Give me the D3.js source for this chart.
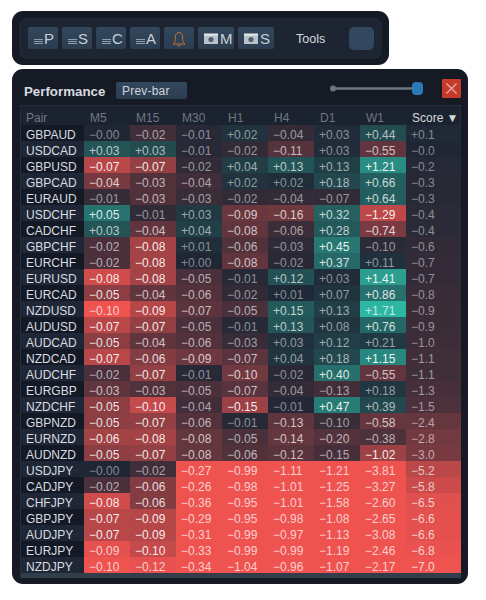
<!DOCTYPE html>
<html>
<head>
<meta charset="utf-8">
<script src="https://cdn.jsdelivr.net/npm/d3@7"></script>
<style>
  html, body { margin: 0; padding: 0; background: #fff; }
  svg { display: block; }
  text { font-family: "Liberation Sans", Arial, sans-serif; }
</style>
</head>
<body>
<svg id="chart" width="486" height="600"></svg>
<script>
var pairs = ['GBPAUD','USDCAD','GBPUSD','GBPCAD','EURAUD','USDCHF','CADCHF','GBPCHF','EURCHF','EURUSD','EURCAD','NZDUSD','AUDUSD','AUDCAD','NZDCAD','AUDCHF','EURGBP','NZDCHF','GBPNZD','EURNZD','AUDNZD','USDJPY','CADJPY','CHFJPY','GBPJPY','AUDJPY','EURJPY','NZDJPY'];
var columns = ['M5','M15','M30','H1','H4','D1','W1'];

var m5 = [-0.00,+0.03,-0.07,-0.04,-0.01,+0.05,+0.03,-0.02,-0.02,-0.08,-0.05,-0.10,-0.07,-0.05,-0.07,-0.02,-0.03,-0.05,-0.05,-0.06,-0.05,-0.00,-0.02,-0.08,-0.07,-0.07,-0.09,-0.10];
var m15 = [-0.02,+0.03,-0.07,-0.03,-0.03,-0.01,-0.04,-0.08,-0.08,-0.08,-0.04,-0.09,-0.07,-0.04,-0.06,-0.07,-0.03,-0.10,-0.07,-0.08,-0.07,-0.02,-0.06,-0.06,-0.09,-0.09,-0.10,-0.12];
var m30 = [-0.01,-0.01,-0.02,-0.04,-0.03,+0.03,+0.04,+0.01,+0.00,-0.05,-0.06,-0.07,-0.05,-0.06,-0.09,-0.01,-0.05,-0.04,-0.06,-0.08,-0.08,-0.27,-0.26,-0.36,-0.29,-0.31,-0.33,-0.34];
var h1 = [+0.02,-0.02,+0.04,+0.02,-0.02,-0.09,-0.08,-0.06,-0.08,-0.01,-0.02,-0.05,-0.01,-0.03,-0.07,-0.10,-0.07,-0.15,-0.01,-0.05,-0.06,-0.99,-0.98,-0.95,-0.95,-0.99,-0.99,-1.04];
var h4 = [-0.04,-0.11,+0.13,+0.02,-0.04,-0.16,-0.06,-0.03,-0.02,+0.12,+0.01,+0.15,+0.13,+0.03,+0.04,-0.02,-0.04,-0.01,-0.13,-0.14,-0.12,-1.11,-1.01,-1.01,-0.98,-0.97,-0.99,-0.96];
var d1 = [+0.03,+0.03,+0.13,+0.18,-0.07,+0.32,+0.28,+0.45,+0.37,+0.03,+0.07,+0.13,+0.08,+0.12,+0.18,+0.40,-0.13,+0.47,-0.10,-0.20,-0.15,-1.21,-1.25,-1.58,-1.08,-1.13,-1.19,-1.07];
var w1 = [+0.44,-0.55,+1.21,+0.66,+0.64,-1.29,-0.74,-0.10,+0.11,+1.41,+0.86,+1.71,+0.76,+0.21,+1.15,-0.55,+0.18,+0.39,-0.58,-0.38,-1.02,-3.81,-3.27,-2.60,-2.65,-3.08,-2.46,-2.17];
var score = [+0.1,-0.0,-0.2,-0.3,-0.3,-0.4,-0.4,-0.6,-0.7,-0.7,-0.8,-0.9,-0.9,-1.0,-1.1,-1.1,-1.3,-1.5,-2.4,-2.8,-3.0,-5.2,-5.8,-6.5,-6.6,-6.6,-6.8,-7.0];
var series = [m5, m15, m30, h1, h4, d1, w1];

// value at which each column reaches full colour
var fullAt = [0.095, 0.125, 0.24, 0.25, 0.42, 0.8, 1.7];

var svg = d3.select('#chart');

var rowY = d3.scaleBand().domain(pairs).range([125, 573]);
var colX = d3.scaleBand().domain(columns).range([84, 406]);
var fmt2 = d3.format('+.2f'), fmt1 = d3.format('+.1f');

function strength(column) {
  return d3.scaleLinear().domain([-fullAt[column], 0, fullAt[column]]).range([-1, 0, 1]).clamp(true);
}
var scoreStrength = d3.scaleLinear().domain([0, 7]).range([0, 1]).clamp(true);

var heat = d3.scaleLinear().domain([-1, 0, 1]).range(['#ef5350', '#1f2735', '#2db7a3']);

function textFill(s) {
  var a = Math.abs(s);
  return a > 0.9 ? 'rgba(255,255,255,0.72)' : 'rgba(255,255,255,' + Math.min(0.92, 0.45 + 0.8 * a) + ')';
}

function panel(x, y, w, h, r, fill) {
  return svg.append('rect').attr('x', x).attr('y', y).attr('width', w).attr('height', h).attr('rx', r).attr('fill', fill);
}

// toolbar
panel(12, 11, 377, 54, 11, '#151a24');
panel(20, 19, 361, 39, 6, '#1d2533').attr('stroke', '#242d3c');

var defs = svg.append('defs');
var grad = defs.append('linearGradient').attr('id', 'btn').attr('x1', 0).attr('x2', 0).attr('y1', 0).attr('y2', 1);
grad.append('stop').attr('offset', 0).attr('stop-color', '#33485d');
grad.append('stop').attr('offset', 1).attr('stop-color', '#2a3c50');

var buttons = [
  {x: 28, w: 30, icon: 'menu', label: 'P'},
  {x: 62, w: 30, icon: 'menu', label: 'S'},
  {x: 96, w: 30, icon: 'menu', label: 'C'},
  {x: 130, w: 30, icon: 'menu', label: 'A'},
  {x: 164, w: 30, icon: 'bell', label: ''},
  {x: 198, w: 36, icon: 'cam', label: 'M'},
  {x: 238, w: 36, icon: 'cam', label: 'S'}
];

buttons.forEach(function(b) {
  var g = svg.append('g').attr('transform', 'translate(' + b.x + ',27)');
  g.append('rect').attr('width', b.w).attr('height', 22).attr('rx', 2).attr('fill', 'url(#btn)');
  if (b.icon == 'menu') {
    [12.5, 14.5, 16.5].forEach(function(y) {
      g.append('line').attr('x1', 6).attr('x2', 15).attr('y1', y).attr('y2', y).attr('stroke', '#aeb6bf').attr('stroke-width', 0.8);
    });
    g.append('text').attr('x', 16).attr('y', 16.5).attr('font-size', 15).attr('fill', '#c9cfd5').text(b.label);
  }
  if (b.icon == 'bell') {
    g.append('path')
      .attr('d', 'M9 17 C12 15 11 12 11.5 9 C12 6.5 13.5 5.5 15 5.5 C16.5 5.5 18 6.5 18.5 9 C19 12 18 15 21 17 Z M13.5 18 C14 19.5 16 19.5 16.5 18')
      .attr('fill', 'none').attr('stroke', '#c5763a').attr('stroke-width', 1);
  }
  if (b.icon == 'cam') {
    g.append('rect').attr('x', 6).attr('y', 8).attr('width', 14).attr('height', 9).attr('fill', '#b9c2ca');
    g.append('rect').attr('x', 6).attr('y', 6.5).attr('width', 14).attr('height', 2).attr('fill', '#e6eaee');
    g.append('circle').attr('cx', 13).attr('cy', 12.5).attr('r', 2.6).attr('fill', '#55606a');
    g.append('text').attr('x', 22).attr('y', 16.5).attr('font-size', 15).attr('fill', '#c9cfd5').text(b.label);
  }
});

svg.append('text').attr('x', 296).attr('y', 43).attr('font-size', 12.5).attr('fill', '#d3d8dd').text('Tools');
panel(349, 27, 25, 23, 5, '#33475e');

// main panel
panel(12, 69, 456, 515, 11, '#151a24');
svg.append('text').attr('x', 24).attr('y', 96).attr('font-size', 13.3).attr('font-weight', 'bold').attr('fill', '#d8dce0').text('Performance');
panel(116, 82, 71, 17, 2, 'url(#btn)');
svg.append('text').attr('x', 122).attr('y', 95).attr('font-size', 12).attr('letter-spacing', 0.2).attr('fill', '#cfd5da').text('Prev-bar');

svg.append('line').attr('x1', 333).attr('x2', 417).attr('y1', 88.5).attr('y2', 88.5).attr('stroke', '#6c7680').attr('stroke-width', 2.5);
svg.append('circle').attr('cx', 333).attr('cy', 88.5).attr('r', 3).attr('fill', '#6c7680');
panel(412, 82, 11, 13, 4, '#2a7ab5');

panel(442, 79, 19, 19, 1, '#c63a2e');
svg.append('path').attr('d', 'M446.5 83.5 L456.5 93.5 M456.5 83.5 L446.5 93.5').attr('stroke', '#e9b4ac').attr('stroke-width', 1.1);

// table frame
svg.append('rect').attr('x', 20.5).attr('y', 105.5).attr('width', 440).attr('height', 472).attr('fill', '#1c2330').attr('stroke', '#262f3d');
svg.append('rect').attr('x', 21).attr('y', 573).attr('width', 440).attr('height', 5).attr('fill', '#313d4b');

// header
svg.append('g').selectAll('text').data(['Pair'].concat(columns)).enter().append('text')
  .attr('x', function(d) { return d == 'Pair' ? 26 : colX(d) + 6; })
  .attr('y', 122)
  .attr('font-size', 12)
  .attr('fill', '#6f7783')
  .text(function(d) { return d; });
svg.append('text').attr('x', 412).attr('y', 122).attr('font-size', 12).attr('fill', '#d5d9de').text('Score');
svg.append('text').attr('x', 446.5).attr('y', 122).attr('font-size', 12).attr('font-family', 'DejaVu Sans').attr('fill', '#d5d9de').text('▼');

// pair column
var rows = svg.append('g').selectAll('g').data(pairs).enter().append('g');
rows.append('rect')
  .attr('x', 21).attr('y', function(d) { return rowY(d); })
  .attr('width', 63).attr('height', rowY.bandwidth())
  .attr('fill', function(d, i) { return i % 2 ? '#1f2736' : '#141a25'; });
rows.append('text')
  .attr('x', 26).attr('y', function(d) { return rowY(d) + 13.5; })
  .attr('font-size', 12).attr('fill', '#d8dce1')
  .text(function(d) { return d; });

// value cells
columns.forEach(function(name, c) {
  var s = strength(c);
  var g = svg.append('g').selectAll('g').data(series[c]).enter().append('g');
  g.append('rect')
    .attr('x', colX(name)).attr('y', function(d, i) { return rowY(pairs[i]); })
    .attr('width', colX.bandwidth()).attr('height', rowY.bandwidth())
    .attr('fill', function(d) { return heat(s(d)); });
  g.append('text')
    .attr('x', colX(name) + 5).attr('y', function(d, i) { return rowY(pairs[i]) + 13.5; })
    .attr('font-size', 12)
    .attr('fill', function(d) { return textFill(s(d)); })
    .text(function(d) { return fmt2(d); });
});

// score column
var sc = svg.append('g').selectAll('g').data(score).enter().append('g');
sc.append('rect')
  .attr('x', 406).attr('y', function(d, i) { return rowY(pairs[i]); })
  .attr('width', 55).attr('height', rowY.bandwidth())
  .attr('fill', function(d) { return heat(d < 0 ? -scoreStrength(-d) : scoreStrength(d)); });
sc.append('text')
  .attr('x', 411).attr('y', function(d, i) { return rowY(pairs[i]) + 13.5; })
  .attr('font-size', 12)
  .attr('fill', function(d) { return 'rgba(255,255,255,' + (0.45 + 0.3 * scoreStrength(Math.abs(d))) + ')'; })
  .text(function(d) { return fmt1(d); });
</script>
</body>
</html>
